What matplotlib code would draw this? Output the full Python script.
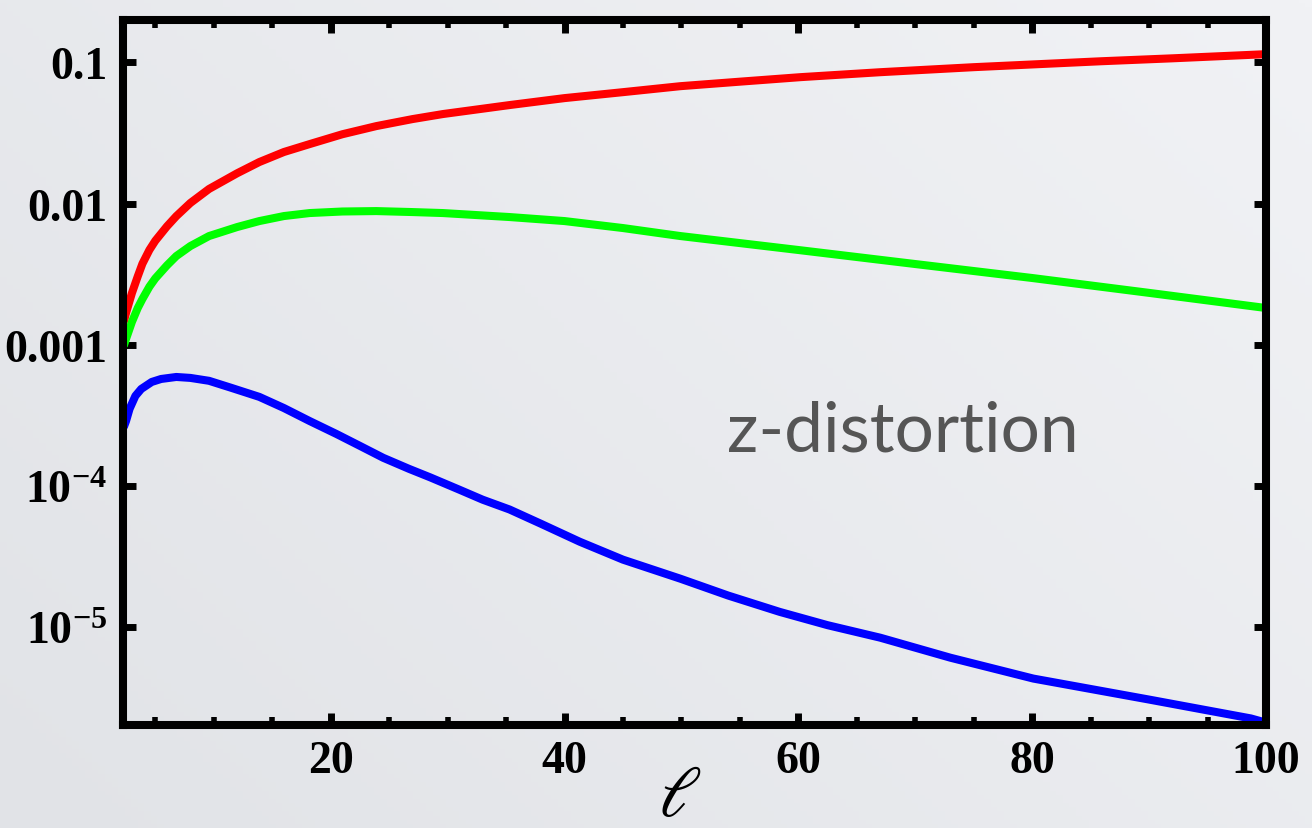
import numpy as np
import matplotlib
matplotlib.use("Agg")
import matplotlib.pyplot as plt
from matplotlib.colors import LinearSegmentedColormap

plt.rcParams['mathtext.fontset'] = 'custom'
plt.rcParams['mathtext.rm'] = 'Liberation Serif:bold'
plt.rcParams['mathtext.bf'] = 'Liberation Serif:bold'
plt.rcParams['mathtext.it'] = 'Liberation Serif:italic'

# values
l_red = [2.3, 2.5, 3, 3.5, 3.9, 4.5, 5, 6, 6.8, 8, 9.6, 12, 13.9, 16, 18.2, 21,
         23.9, 27, 29.6, 35.3, 40, 45, 49.9, 55, 60.2, 67, 75, 85.9, 92, 100]
red = [0.00145, 0.00168, 0.00232, 0.00305, 0.00375, 0.00470, 0.00545, 0.00690,
       0.00815, 0.0101, 0.0127, 0.0164, 0.0197, 0.0232, 0.0264, 0.0310, 0.0354,
       0.0397, 0.0431, 0.0499, 0.0559, 0.0616, 0.0679, 0.0731, 0.0787, 0.0853,
       0.0926, 0.102, 0.107, 0.1145]

l_green = [2.3, 2.5, 3, 3.5, 3.9, 4.5, 5, 6, 6.8, 8, 9.6, 12, 13.9, 16, 18.2, 21,
           23.9, 27, 29.6, 35.3, 40, 45, 49.9, 60, 70, 80, 90, 100]
green = [0.00098, 0.0011, 0.00145, 0.00182, 0.00211, 0.00258, 0.00295, 0.00365,
         0.00425, 0.00500, 0.00589, 0.00682, 0.00752, 0.00816, 0.00857, 0.00879,
         0.00885, 0.00871, 0.00857, 0.00803, 0.00752, 0.00671, 0.00589, 0.00469,
         0.00373, 0.00297, 0.00233, 0.00182]

l_blue = [2.3, 2.5, 2.8, 3.3, 3.8, 4.7, 5.5, 6.8, 8, 9.6, 11.5, 13.9, 16, 18.2,
          20.5, 22.5, 24.5, 26.7, 28.5, 31, 33, 35.3, 38, 41.3, 45, 49.9, 54,
          58.4, 62.5, 67, 73, 80.1, 90, 98.7, 100]
blue = [2.6e-4, 2.88e-4, 3.51e-4, 4.34e-4, 4.86e-4, 5.45e-4, 5.72e-4, 5.91e-4,
        5.82e-4, 5.55e-4, 4.95e-4, 4.27e-4, 3.56e-4, 2.88e-4, 2.33e-4, 1.92e-4,
        1.58e-4, 1.32e-4, 1.15e-4, 9.4e-5, 7.98e-5, 6.8e-5, 5.38e-5, 4.02e-5,
        3.0e-5, 2.20e-5, 1.67e-5, 1.28e-5, 1.03e-5, 8.4e-6, 6.06e-6, 4.31e-6,
        3.06e-6, 2.25e-6, 2.10e-6]

x_ticks = [20, 40, 60, 80, 100]
y_ticks = [0.1, 0.01, 0.001, 1e-4, 1e-5]
y_tick_labels = ['0.1', '0.01', '0.001', r'$10^{-4}$', r'$10^{-5}$']

fig = plt.figure(figsize=(13.12, 8.29), dpi=100)

# soft gray slide background
bg = fig.add_axes([0, 0, 1, 1], zorder=-10)
bg.axis('off')
cmap = LinearSegmentedColormap.from_list('bg', ['#e1e3e7', '#f1f2f5'])
gx, gy = np.meshgrid(np.linspace(0, 1, 200), np.linspace(0, 1, 200))
bg.imshow(0.6 * gx + 0.4 * (1 - gy), cmap=cmap, aspect='auto', extent=[0, 1, 0, 1])

ax = fig.add_axes([0.0934, 0.1242, 0.8716, 0.8505])
ax.set_facecolor('none')

lw = 5.8
for xs, ys, c in [(l_red, red, '#ff0000'), (l_green, green, '#00ff00'),
                  (l_blue, blue, '#0000ff')]:
    ax.plot(xs, ys, color=c, lw=lw, solid_capstyle='butt', solid_joinstyle='round')

ax.set_yscale('log')
ax.set_xlim(2.2, 100)
ax.set_ylim(2.02e-6, 0.2)

for s in ax.spines.values():
    s.set_linewidth(5.8)
    s.set_color('black')

ax.set_xticks(x_ticks)
ax.set_xticklabels([str(t) for t in x_ticks])
ax.set_xticks(np.arange(5, 100, 5), minor=True)
ax.set_yticks(y_ticks)
ax.set_yticklabels(y_tick_labels)
ax.yaxis.set_minor_locator(matplotlib.ticker.NullLocator())

ax.tick_params(which='major', direction='in', length=9, width=5, top=True, right=True,
               labelsize=33, pad=11)
ax.tick_params(which='minor', direction='in', length=5.5, width=4, top=True, right=True)
for lab in ax.get_xticklabels() + ax.get_yticklabels():
    lab.set_fontfamily('Liberation Serif')
    lab.set_fontweight('bold')

fig.text(680 / 1312, 1 - 797 / 829, r'$\ell$', fontsize=52, ha='center', va='center',
         math_fontfamily='stix')
ax.text(0.5286, 0.3887, 'z-distortion', transform=ax.transAxes, fontsize=50,
        family='Lato', color='#555555', ha='left', va='baseline')

fig.savefig('out.png', dpi=100)
